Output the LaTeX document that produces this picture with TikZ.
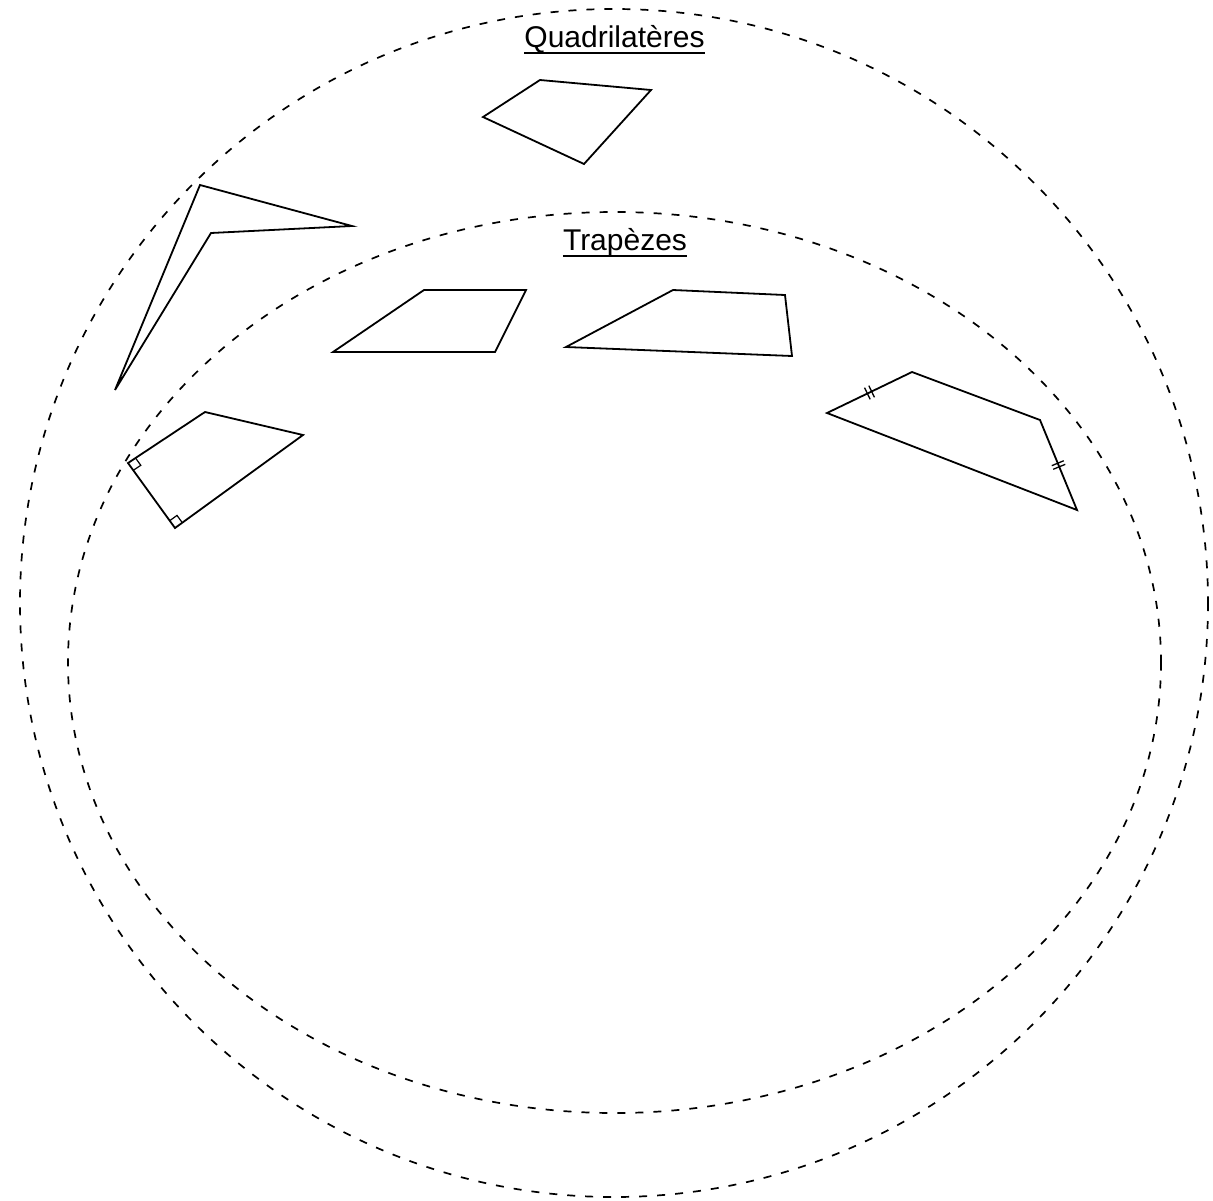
\documentclass[tikz,border=0pt]{standalone}
\usepackage{fontspec}
\setmainfont{Liberation Sans}
\usetikzlibrary{calc}
\begin{document}
\begin{tikzpicture}[x=1pt,y=-1pt,
  polyline/.style={draw=black, line width=1.8pt, line join=miter},
  setline/.style={draw=black, line width=1.7pt, dash pattern=on 8pt off 10pt},
  titletext/.style={font=\fontsize{30}{35}\selectfont, inner sep=0pt, anchor=base},
  anglemark/.style={draw=black, line width=1.2pt},
  tickmark/.style={draw=black, line width=1.3pt, inner sep=0pt, minimum width=0pt, minimum height=13pt}]
\useasboundingbox[fill=white] (0,0) rectangle (1213,1200);
% set boundaries
\draw[setline] (614,603) ellipse [x radius=594, y radius=594];
\draw[setline] (614.5,662.5) ellipse [x radius=546.5, y radius=450.5];
% titles
\node[titletext] (q) at (614.5,47) {Quadrilatères};
\draw[line width=1.6pt] ([yshift=-6pt]q.base west) -- ([yshift=-6pt]q.base east);
\node[titletext] (t) at (625,250) {Trapèzes};
\draw[line width=1.6pt] ([yshift=-6pt]t.base west) -- ([yshift=-6pt]t.base east);
% general quadrilateral
\coordinate (a1) at (540,80); \coordinate (a2) at (651,90);
\coordinate (a3) at (584,164); \coordinate (a4) at (483,117);
\draw[polyline] (a1) -- (a2) -- (a3) -- (a4) -- cycle;
% concave quadrilateral
\coordinate (k1) at (200,185); \coordinate (k2) at (352,226);
\coordinate (k3) at (211,233); \coordinate (k4) at (115,390);
\draw[polyline] (k1) -- (k2) -- (k3) -- (k4) -- cycle;
% trapezoid 1
\coordinate (b1) at (424,290); \coordinate (b2) at (526,290);
\coordinate (b3) at (495,352); \coordinate (b4) at (333,352);
\draw[polyline] (b1) -- (b2) -- (b3) -- (b4) -- cycle;
% trapezoid 2
\coordinate (c1) at (673,290); \coordinate (c2) at (785,295);
\coordinate (c3) at (792,356); \coordinate (c4) at (566,347);
\draw[polyline] (c1) -- (c2) -- (c3) -- (c4) -- cycle;
% right trapezoid
\coordinate (r1) at (205,412); \coordinate (r2) at (303,435);
\coordinate (r3) at (175,528); \coordinate (r4) at (128,463);
\draw[polyline] (r1) -- (r2) -- (r3) -- (r4) -- cycle;
\draw[anglemark] (135.5,458.0) -- (140.8,465.3) -- (133.3,470.3);
\draw[anglemark] (169.7,520.7) -- (177.0,515.4) -- (182.3,522.7);
% isosceles trapezoid
\coordinate (i1) at (827,413); \coordinate (i2) at (912,372);
\coordinate (i3) at (1040,420); \coordinate (i4) at (1077,510);
\draw[polyline] (i1) -- (i2) -- (i3) -- (i4) -- cycle;
\path (i1) -- (i2) node[tickmark, sloped, pos=0.475] {} node[tickmark, sloped, pos=0.525] {};
\path (i3) -- (i4) node[tickmark, sloped, pos=0.48] {} node[tickmark, sloped, pos=0.52] {};
\end{tikzpicture}
\end{document}
